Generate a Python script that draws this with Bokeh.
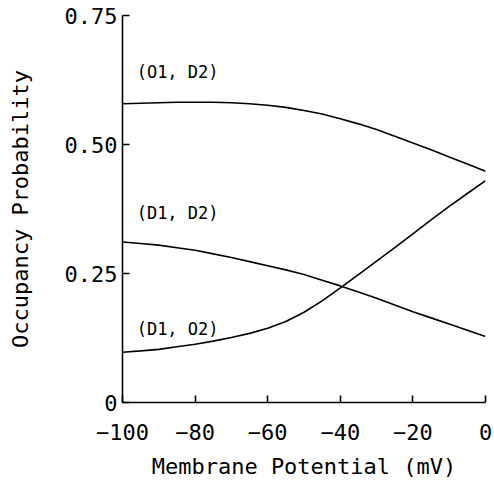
from bokeh.plotting import figure
from bokeh.models import Range1d, Label, FixedTicker
from bokeh.embed import file_html
from bokeh.resources import INLINE

# Membrane potential (mV)
voltage = [-100, -95, -90, -85, -80, -75, -70, -65, -60, -55, -50,
           -45, -40, -35, -30, -25, -20, -15, -10, -5, 0]
# Occupancy probabilities
o1_d2 = [0.579, 0.580, 0.581, 0.582, 0.582, 0.582, 0.581, 0.579, 0.576, 0.572, 0.566,
         0.559, 0.550, 0.540, 0.529, 0.516, 0.503, 0.490, 0.476, 0.462, 0.448]
d1_d2 = [0.311, 0.308, 0.305, 0.300, 0.295, 0.288, 0.281, 0.273, 0.265, 0.257, 0.248,
         0.237, 0.226, 0.214, 0.202, 0.189, 0.176, 0.164, 0.152, 0.140, 0.128]
d1_o2 = [0.0975, 0.100, 0.103, 0.108, 0.113, 0.119, 0.126, 0.134, 0.144, 0.157, 0.175,
         0.197, 0.222, 0.248, 0.274, 0.300, 0.327, 0.354, 0.380, 0.405, 0.430]

series_labels = ["(O1, D2)", "(D1, D2)", "(D1, O2)"]
label_x = [-96.1, -96.1, -96.1]
label_y = [0.640, 0.368, 0.143]

x_ticks = [-100, -80, -60, -40, -20, 0]
y_ticks = [0, 0.25, 0.5, 0.75]
y_tick_labels = {0: "0", 0.25: "0.25", 0.5: "0.50", 0.75: "0.75"}

FONT = "DejaVu Sans Mono"

p = figure(width=494, height=482, output_backend="svg", toolbar_location=None,
           x_range=Range1d(-100, 0), y_range=Range1d(0, 0.75),
           min_border_left=122, min_border_right=9, min_border_top=15,
           min_border_bottom=80)
p.outline_line_color = None
p.grid.visible = False
p.background_fill_color = "white"
p.border_fill_color = "white"

for ys in (o1_d2, d1_d2, d1_o2):
    p.line(voltage, ys, line_color="black", line_width=1.6)

for txt, lx, ly in zip(series_labels, label_x, label_y):
    p.add_layout(Label(x=lx, y=ly, text=txt, text_font=FONT, text_font_size="17px",
                       text_baseline="middle", text_align="left", text_color="black"))

for ax in (p.xaxis[0], p.yaxis[0]):
    ax.axis_line_color = "black"
    ax.axis_line_width = 1.6
    ax.major_tick_line_color = "black"
    ax.major_tick_line_width = 1.6
    ax.major_tick_in = 7
    ax.major_tick_out = 0
    ax.minor_tick_line_color = None
    ax.major_label_text_font = FONT
    ax.major_label_text_font_size = "22px"
    ax.major_label_text_color = "black"
    ax.axis_label_text_font = FONT
    ax.axis_label_text_font_size = "22px"
    ax.axis_label_text_font_style = "normal"
    ax.axis_label_text_color = "black"

p.xaxis.ticker = FixedTicker(ticks=x_ticks)
p.xaxis.major_label_overrides = {t: ("\u2212" + str(-t) if t < 0 else str(t)) for t in x_ticks}
p.xaxis.major_label_standoff = 21
p.xaxis.axis_label = "Membrane Potential (mV)"
p.xaxis.axis_label_standoff = 11

p.yaxis.ticker = FixedTicker(ticks=y_ticks)
p.yaxis.major_label_overrides = y_tick_labels
p.yaxis.major_label_standoff = 5
p.yaxis.axis_label = "Occupancy Probability"
p.yaxis.axis_label_standoff = 29

open("out.html", "w").write(file_html(p, INLINE))
